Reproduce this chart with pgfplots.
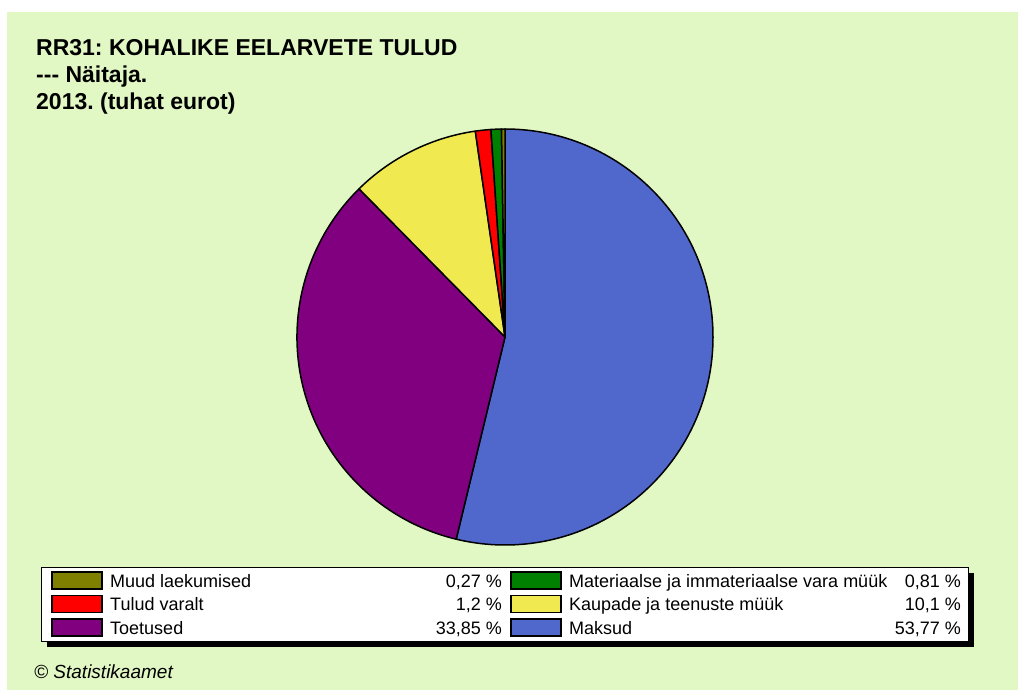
\documentclass[border=0pt]{standalone}
\usepackage{pgfplots}
\pgfplotsset{compat=1.18}
\usepackage{pgfplotstable}
\usepackage{fontspec}
\setmainfont{Liberation Sans}
\frenchspacing
\definecolor{bg}{RGB}{226,248,196}
\definecolor{cMaksud}{RGB}{80,104,204}
\definecolor{cToetused}{RGB}{128,0,128}
\definecolor{cKaupade}{RGB}{240,234,80}
\definecolor{cTulud}{RGB}{255,0,0}
\definecolor{cMateriaalse}{RGB}{0,128,0}
\definecolor{cMuud}{RGB}{128,128,0}

% shares in %, clockwise from 12 o'clock
\pgfplotstableread{
name value
Maksud 53.77
Toetused 33.85
Kaupade 10.1
Tulud 1.2
Materiaalse 0.81
Muud 0.27
}\pietable

\begin{document}
\begin{tikzpicture}[x=1pt,y=-1pt]
\fill[white] (0,0) rectangle (1018,690);
\fill[bg] (7,12) rectangle (1018,690);
% title
\begin{scope}[every node/.style={inner sep=0pt, anchor=base west, font=\fontsize{23}{27}\selectfont\bfseries}]
\node at (36,56) {RR31: KOHALIKE EELARVETE TULUD};
\node at (36,83) {-{}-{}- Näitaja.};
\node at (36,110) {2013. (tuhat eurot)};
\end{scope}
% pie
\begin{axis}[at={(505pt,-337pt)}, anchor=origin, x=1pt, y=1pt, hide axis, clip=false,
  xmin=-210, xmax=210, ymin=-210, ymax=210]
\pgfplotstablegetrowsof{\pietable}
\pgfmathtruncatemacro{\nrows}{\pgfplotsretval-1}
\gdef\cum{0}
\foreach \i in {0,...,\nrows}{
  \pgfplotstablegetelem{\i}{value}\of\pietable \let\v\pgfplotsretval
  \pgfplotstablegetelem{\i}{name}\of\pietable \let\n\pgfplotsretval
  \pgfmathsetmacro{\aS}{90-3.6*\cum}
  \pgfmathsetmacro{\aE}{90-3.6*(\cum+\v)}
  \pgfmathsetmacro{\xS}{208*cos(\aS)}
  \pgfmathsetmacro{\yS}{208*sin(\aS)}
  \edef\doit{\noexpand\filldraw[fill=c\n, draw=black, line width=1.5pt, line join=round] (axis cs:0,0) -- (axis cs:\xS,\yS) arc[start angle=\aS, end angle=\aE, radius=208pt] -- cycle;}
  \doit
  \pgfmathsetmacro{\newcum}{\cum+\v}
  \xdef\cum{\newcum}
}
\end{axis}
% legend
\fill[black] (47,573) rectangle (974,647);
\filldraw[fill=white, draw=black, line width=1pt] (41,567) rectangle (968,641);
\begin{scope}[every node/.style={inner sep=0pt, font=\fontsize{18}{20}\selectfont}]
\filldraw[fill=cMuud, draw=black, line width=1.5pt] (52,572) rectangle (102,589);
\node[anchor=base west] at (110,587) {Muud laekumised};
\node[anchor=base east] at (502,587) {0,27 \%};
\filldraw[fill=cTulud, draw=black, line width=1.5pt] (52,595.5) rectangle (102,612.5);
\node[anchor=base west] at (110,610.5) {Tulud varalt};
\node[anchor=base east] at (502,610.5) {1,2 \%};
\filldraw[fill=cToetused, draw=black, line width=1.5pt] (52,619) rectangle (102,636);
\node[anchor=base west] at (110,634) {Toetused};
\node[anchor=base east] at (502,634) {33,85 \%};
\filldraw[fill=cMateriaalse, draw=black, line width=1.5pt] (511,572) rectangle (561,589);
\node[anchor=base west] at (569,587) {Materiaalse ja immateriaalse vara müük};
\node[anchor=base east] at (961,587) {0,81 \%};
\filldraw[fill=cKaupade, draw=black, line width=1.5pt] (511,595.5) rectangle (561,612.5);
\node[anchor=base west] at (569,610.5) {Kaupade ja teenuste müük};
\node[anchor=base east] at (961,610.5) {10,1 \%};
\filldraw[fill=cMaksud, draw=black, line width=1.5pt] (511,619) rectangle (561,636);
\node[anchor=base west] at (569,634) {Maksud};
\node[anchor=base east] at (961,634) {53,77 \%};
\end{scope}
\node[inner sep=0pt, anchor=base west, font=\fontsize{19}{21}\selectfont\itshape] at (34,678) {© Statistikaamet};
\end{tikzpicture}
\end{document}
